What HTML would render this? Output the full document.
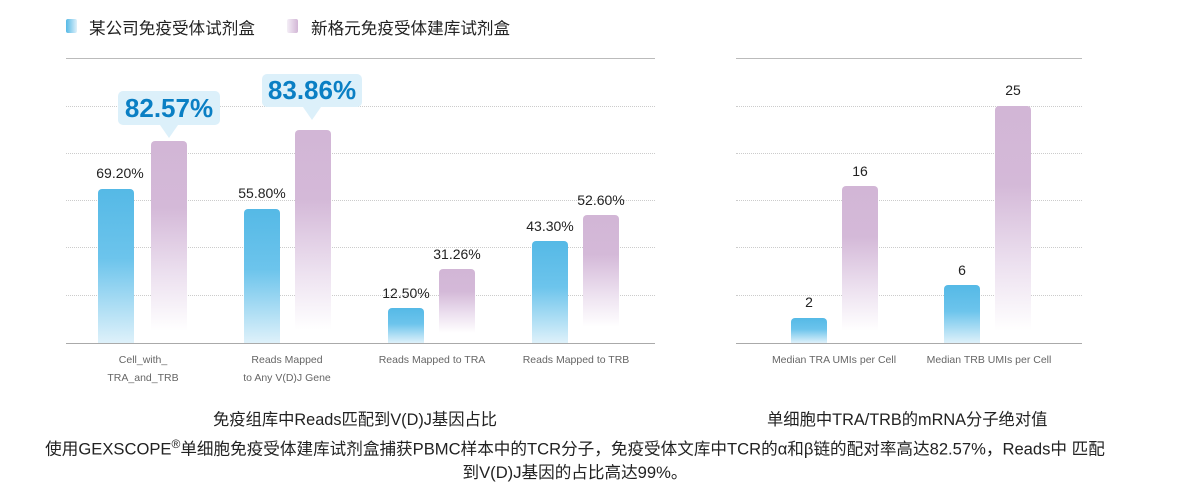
<!DOCTYPE html>
<html><head><meta charset="utf-8"><style>
body{margin:0;width:1187px;height:496px;background:#fff;position:relative;overflow:hidden;font-family:"Liberation Sans","Noto Sans CJK SC",sans-serif;color:#222}
.a{position:absolute}
.h{position:absolute;height:0;border-top:1px dotted #ccc}
.b{position:absolute;width:36px;border-radius:4px 4px 0 0;background:linear-gradient(to bottom,#55b9e6 0%,#6cc4ec 45%,#def1fa 100%)}
.p{position:absolute;width:36px;border-radius:4px 4px 0 0;background:linear-gradient(to bottom,#d2b6d6 0%,#d4b9d8 35%,#ece0ef 70%,#fff 100%)}
.v{position:absolute;width:80px;text-align:center;font-size:14px;color:#222}
.x{position:absolute;width:140px;text-align:center;font-size:10.5px;color:#666;line-height:18px}
.call{position:absolute;background:#dcf0fa;color:#0a7fc4;font-weight:bold;font-size:26px;text-align:center;border-radius:5px}
.call:after{content:"";position:absolute;left:50%;margin-left:-9px;bottom:-13px;border-left:9px solid transparent;border-right:9px solid transparent;border-top:13px solid #dcf0fa}
</style></head><body>
<div class="a" style="left:66px;top:19px;width:11px;height:14px;border-radius:2px;background:linear-gradient(to right,#55b9e6,#dff1fa)"></div>
<div class="a" style="left:89px;top:15px;font-size:16.6px">某公司免疫受体试剂盒</div>
<div class="a" style="left:287px;top:19px;width:11px;height:14px;border-radius:2px;background:linear-gradient(to right,#f4eef6,#d2b6d6)"></div>
<div class="a" style="left:311px;top:15px;font-size:16.6px">新格元免疫受体建库试剂盒</div>

<div class="a" style="left:66px;top:58px;width:589px;height:1px;background:#bbb"></div>
<div class="h" style="left:66px;top:106px;width:589px"></div>
<div class="h" style="left:66px;top:153px;width:589px"></div>
<div class="h" style="left:66px;top:200px;width:589px"></div>
<div class="h" style="left:66px;top:247px;width:589px"></div>
<div class="h" style="left:66px;top:295px;width:589px"></div>
<div class="a" style="left:66px;top:343px;width:589px;height:1px;background:#aaa"></div>

<div class="a" style="left:736px;top:58px;width:346px;height:1px;background:#bbb"></div>
<div class="h" style="left:736px;top:106px;width:346px"></div>
<div class="h" style="left:736px;top:153px;width:346px"></div>
<div class="h" style="left:736px;top:200px;width:346px"></div>
<div class="h" style="left:736px;top:247px;width:346px"></div>
<div class="h" style="left:736px;top:295px;width:346px"></div>
<div class="a" style="left:736px;top:343px;width:346px;height:1px;background:#aaa"></div>

<div class="b" style="left:98px;top:189px;height:154px"></div>
<div class="p" style="left:151px;top:141px;height:190px"></div>
<div class="b" style="left:244px;top:209px;height:134px"></div>
<div class="p" style="left:295px;top:130px;height:200px"></div>
<div class="b" style="left:388px;top:308px;height:35px"></div>
<div class="p" style="left:439px;top:269px;height:64px"></div>
<div class="b" style="left:532px;top:241px;height:102px"></div>
<div class="p" style="left:583px;top:215px;height:112px"></div>
<div class="b" style="left:791px;top:318px;height:25px"></div>
<div class="p" style="left:842px;top:186px;height:145px"></div>
<div class="b" style="left:944px;top:285px;height:58px"></div>
<div class="p" style="left:995px;top:106px;height:225px"></div>

<div class="v" style="left:80px;top:165px">69.20%</div>
<div class="v" style="left:222px;top:185px">55.80%</div>
<div class="v" style="left:366px;top:285px">12.50%</div>
<div class="v" style="left:417px;top:246px">31.26%</div>
<div class="v" style="left:510px;top:218px">43.30%</div>
<div class="v" style="left:561px;top:192px">52.60%</div>
<div class="v" style="left:769px;top:294px">2</div>
<div class="v" style="left:820px;top:163px">16</div>
<div class="v" style="left:922px;top:262px">6</div>
<div class="v" style="left:973px;top:82px">25</div>

<div class="call" style="left:118px;top:91px;width:102px;height:34px;line-height:34px">82.57%</div>
<div class="call" style="left:262px;top:74px;width:100px;height:33px;line-height:33px">83.86%</div>

<div class="x" style="left:73px;top:351px">Cell_with_<br>TRA_and_TRB</div>
<div class="x" style="left:217px;top:351px">Reads Mapped<br>to Any V(D)J Gene</div>
<div class="x" style="left:362px;top:351px">Reads Mapped to TRA</div>
<div class="x" style="left:506px;top:351px">Reads Mapped to TRB</div>
<div class="x" style="left:764px;top:351px">Median TRA UMIs per Cell</div>
<div class="x" style="left:919px;top:351px">Median TRB UMIs per Cell</div>

<div class="a" style="left:213px;top:406px;font-size:16.3px">免疫组库中Reads匹配到V(D)J基因占比</div>
<div class="a" style="left:767px;top:406px;font-size:16.3px">单细胞中TRA/TRB的mRNA分子绝对值</div>
<div class="a" style="left:0;top:433px;width:1150px;text-align:center;font-size:16.6px;line-height:23px">使用GEXSCOPE<sup style="font-size:12px">®</sup>单细胞免疫受体建库试剂盒捕获PBMC样本中的TCR分子，免疫受体文库中TCR的α和β链的配对率高达82.57%，Reads中 匹配<br>到V(D)J基因的占比高达99%。</div>
</body></html>
